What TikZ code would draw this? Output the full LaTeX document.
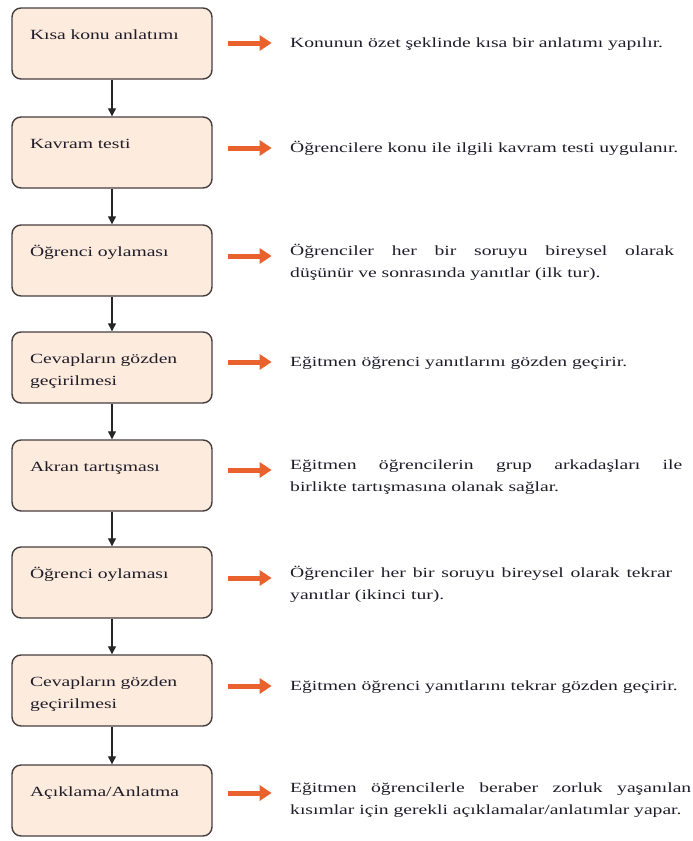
\documentclass[tikz,border=0pt]{standalone}
\usepackage{fontspec}
\setmainfont{Liberation Serif}[FakeStretch=1.4]
\usepackage{xcolor}
\usepackage{tikz}
\usetikzlibrary{arrows.meta, positioning, calc}
\definecolor{boxfill}{RGB}{253, 235, 221}
\definecolor{boxline}{RGB}{70, 62, 62}
\definecolor{hintorange}{RGB}{233, 97, 44}
\definecolor{inktext}{RGB}{30, 28, 40}

\tikzset{
  stage/.style={draw=boxline, line width=1.4pt, fill=boxfill, rounded corners=9pt,
    text width=164pt, inner xsep=18pt, inner ysep=0pt, text height=31pt, text depth=40pt,
    align=left, text=inktext},
  note/.style={anchor=base west, inner sep=0pt, text=inktext},
  notetwo/.style={note, text width=398pt, align=justify},
  flow/.style={-{Triangle[length=8pt,width=8pt]}, line width=1.2pt, black!85},
  hint/.style={-{Triangle[length=12pt,width=15pt]}, line width=5pt, hintorange}
}

\begin{document}
\begin{tikzpicture}[x=1pt, y=-1pt, font=\fontsize{14pt}{22pt}\selectfont]
\useasboundingbox (0,0) rectangle (693,841);
%% steps on the left
\node[stage] (b1) at (112,43.5) {Kısa konu anlatımı};
\node[stage] (b2) at (112,152.5) {Kavram testi};
\node[stage] (b3) at (112,260.5) {Öğrenci oylaması};
\node[stage] (b4) at (112,367.5) {Cevapların gözden geçirilmesi};
\node[stage] (b5) at (112,475.5) {Akran tartışması};
\node[stage] (b6) at (112,582.5) {Öğrenci oylaması};
\node[stage] (b7) at (112,690.5) {Cevapların gözden geçirilmesi};
\node[stage] (b8) at (112,800.5) {Açıklama/Anlatma};

\draw[flow] (b1.south) -- (b2.north);
\draw[flow] (b2.south) -- (b3.north);
\draw[flow] (b3.south) -- (b4.north);
\draw[flow] (b4.south) -- (b5.north);
\draw[flow] (b5.south) -- (b6.north);
\draw[flow] (b6.south) -- (b7.north);
\draw[flow] (b7.south) -- (b8.north);

%% explanations on the right
\node[note] (t1) at (290,47) {Konunun özet şeklinde kısa bir anlatımı yapılır.};
\node[note] (t2) at (290,152) {Öğrencilere konu ile ilgili kavram testi uygulanır.};
\node[notetwo, text width=384pt] (t3) at (290,255) {Öğrenciler her bir soruyu bireysel olarak\linebreak düşünür ve sonrasında yanıtlar (ilk tur).};
\node[note] (t4) at (290,366) {Eğitmen öğrenci yanıtlarını gözden geçirir.};
\node[notetwo, text width=392pt] (t5) at (290,469) {Eğitmen öğrencilerin grup arkadaşları ile\linebreak birlikte tartışmasına olanak sağlar.};
\node[notetwo, text width=382pt] (t6) at (290,577) {Öğrenciler her bir soruyu bireysel olarak tekrar\linebreak yanıtlar (ikinci tur).};
\node[note] (t7) at (290,690) {Eğitmen öğrenci yanıtlarını tekrar gözden geçirir.};
\node[notetwo, text width=401pt] (t8) at (290,792) {Eğitmen öğrencilerle beraber zorluk yaşanılan\linebreak kısımlar için gerekli açıklamalar/anlatımlar yapar.};

\draw[hint] (b1.east) ++(15,-0.5) -- ++(44,0);
\draw[hint] (b2.east) ++(15,-4.5) -- ++(44,0);
\draw[hint] (b3.east) ++(15,-4.5) -- ++(44,0);
\draw[hint] (b4.east) ++(15,-5.5) -- ++(44,0);
\draw[hint] (b5.east) ++(15,-5.5) -- ++(44,0);
\draw[hint] (b6.east) ++(15,-4.5) -- ++(44,0);
\draw[hint] (b7.east) ++(15,-4.5) -- ++(44,0);
\draw[hint] (b8.east) ++(15,-7.5) -- ++(44,0);
\end{tikzpicture}
\end{document}
